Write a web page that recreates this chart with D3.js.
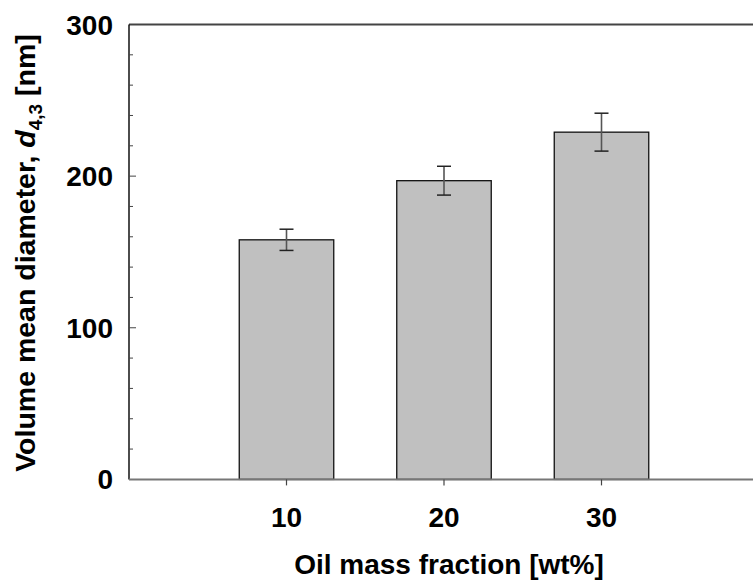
<!DOCTYPE html>
<html>
<head>
<meta charset="utf-8">
<script src="https://cdn.jsdelivr.net/npm/d3@7/dist/d3.min.js"></script>
<style>
  html, body { margin: 0; padding: 0; background: #fff; }
  svg { display: block; }
  text { font-family: "Liberation Sans", Arial, sans-serif; font-weight: bold; fill: #000; }
</style>
</head>
<body>
<svg id="chart" width="753" height="580"></svg>
<script>
// Oil mass fraction categories (wt%)
const fractions = [10, 20, 30];
// Volume mean diameter d4,3 (nm)
const diameters = [158, 197, 229];
// Standard deviation of each measurement (nm)
const errors = [7, 9.5, 12.5];
// Axis tick labels
const yTicks = [0, 100, 200, 300];
const xTicks = [10, 20, 30];

const svg = d3.select("#chart");
const plotLeft = 129, plotRight = 759, plotTop = 24.5, plotBottom = 479.4;

const x = d3.scaleLinear().domain([0, 40]).range([plotLeft, plotRight]);
const y = d3.scaleLinear().domain([0, 300]).range([plotBottom, plotTop]);
const barW = x(6) - x(0);

// Bars
svg.append("g").selectAll("rect")
  .data(fractions)
  .join("rect")
  .attr("x", (d) => x(d) - barW / 2)
  .attr("y", (d, i) => y(diameters[i]))
  .attr("width", barW)
  .attr("height", (d, i) => y(0) - y(diameters[i]))
  .attr("fill", "#c0c0c0")
  .attr("stroke", "#111")
  .attr("stroke-width", 1.3);

// Error bars
const eg = svg.append("g").selectAll("g")
  .data(fractions)
  .join("g");
eg.append("line")
  .attr("x1", (d) => x(d)).attr("x2", (d) => x(d))
  .attr("y1", (d, i) => y(diameters[i] + errors[i]))
  .attr("y2", (d, i) => y(diameters[i] - errors[i]))
  .attr("stroke", "#555").attr("stroke-width", 1.6);
[1, -1].forEach((s) => {
  eg.append("line")
    .attr("x1", (d) => x(d) - 7).attr("x2", (d) => x(d) + 7)
    .attr("y1", (d, i) => y(diameters[i] + s * errors[i]))
    .attr("y2", (d, i) => y(diameters[i] + s * errors[i]))
    .attr("stroke", "#222").attr("stroke-width", 1.5);
});

// Top frame line
svg.append("line")
  .attr("x1", plotLeft).attr("x2", 753)
  .attr("y1", plotTop).attr("y2", plotTop)
  .attr("stroke", "#444").attr("stroke-width", 1.8);

// Y axis with inward major and minor ticks
const yAxis = svg.append("g");
yAxis.append("line")
  .attr("x1", plotLeft).attr("x2", plotLeft)
  .attr("y1", plotTop).attr("y2", plotBottom)
  .attr("stroke", "#000").attr("stroke-width", 1.4);
const minor = d3.range(20, 300, 20).filter((v) => v % 100 !== 0);
yAxis.selectAll("line.minor").data(minor).join("line")
  .attr("class", "minor")
  .attr("x1", plotLeft).attr("x2", plotLeft + 4)
  .attr("y1", (d) => y(d)).attr("y2", (d) => y(d))
  .attr("stroke", "#444").attr("stroke-width", 1);
yAxis.selectAll("line.major").data(yTicks.filter((v) => v > 0 && v < 300)).join("line")
  .attr("class", "major")
  .attr("x1", plotLeft).attr("x2", plotLeft + 7)
  .attr("y1", (d) => y(d)).attr("y2", (d) => y(d))
  .attr("stroke", "#444").attr("stroke-width", 1);
yAxis.selectAll("text").data(yTicks).join("text")
  .attr("x", 113)
  .attr("y", (d) => y(d))
  .attr("dy", "0.36em")
  .attr("text-anchor", "end")
  .attr("font-size", 28)
  .text((d) => d);

// X axis with outward ticks
const xAxis = svg.append("g");
xAxis.append("line")
  .attr("x1", plotLeft).attr("x2", 753)
  .attr("y1", plotBottom).attr("y2", plotBottom)
  .attr("stroke", "#777").attr("stroke-width", 2);
xAxis.selectAll("line.tick").data(xTicks).join("line")
  .attr("class", "tick")
  .attr("x1", (d) => x(d)).attr("x2", (d) => x(d))
  .attr("y1", plotBottom).attr("y2", plotBottom + 6)
  .attr("stroke", "#444").attr("stroke-width", 1.2);
xAxis.selectAll("text").data(xTicks).join("text")
  .attr("x", (d) => x(d))
  .attr("y", 527)
  .attr("text-anchor", "middle")
  .attr("font-size", 28)
  .text((d) => d);

// Axis titles
svg.append("text")
  .attr("x", 449).attr("y", 573.5)
  .attr("text-anchor", "middle")
  .attr("font-size", 28)
  .text("Oil mass fraction [wt%]");

const yt = svg.append("text")
  .attr("transform", "translate(35,253) rotate(-90)")
  .attr("text-anchor", "middle")
  .attr("font-size", 28.5);
yt.append("tspan").text("Volume mean diameter, ");
yt.append("tspan").attr("font-style", "italic").text("d");
yt.append("tspan").attr("font-size", 19).attr("dy", 7).text("4,3");
yt.append("tspan").attr("dy", -7).text(" [nm]");
</script>
</body>
</html>
